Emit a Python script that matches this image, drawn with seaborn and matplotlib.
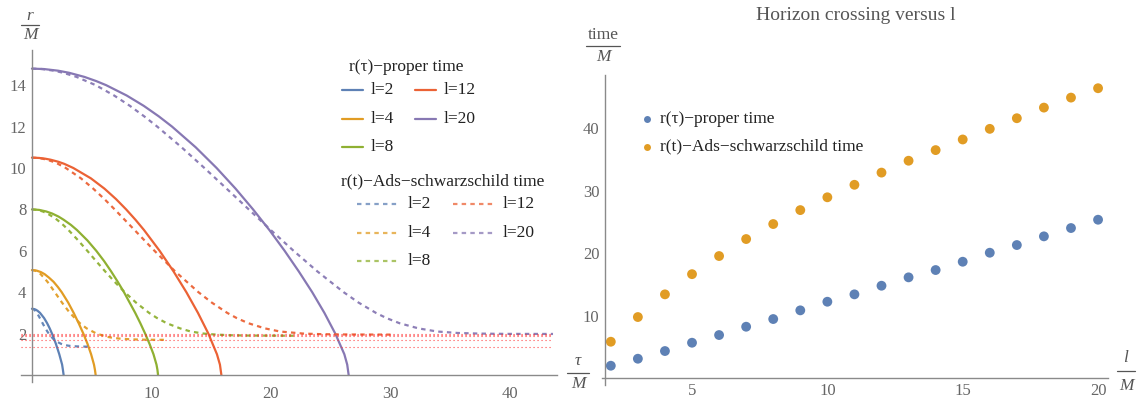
import matplotlib
matplotlib.use("Agg")
import matplotlib.pyplot as plt
from matplotlib.lines import Line2D
from matplotlib.ticker import MultipleLocator
import pandas as pd
import seaborn as sns

# ---------------- left panel: radial infall, r/M versus time ----------------
l_labels = ["l=2", "l=4", "l=8", "l=12", "l=20"]
colors = ["#5E81B5", "#E19C24", "#8FB032", "#EB6235", "#8778B3"]

# proper time tau/M and radius r/M along each trajectory
tau_l2 = [0, 0.211, 0.334, 0.472, 0.674, 1.014, 1.271, 1.486, 1.675, 1.847, 2.005, 2.287, 2.523, 2.59, 2.65]
r_tau_l2 = [3.2, 3.18, 3.15, 3.1, 3.0, 2.75, 2.5, 2.25, 2.0, 1.75, 1.5, 1.0, 0.5, 0.25, 0.0]

tau_l4 = [0, 0.4, 0.75, 1.06, 1.43, 1.81, 2.17, 2.49, 3.03, 3.49, 3.91, 4.30, 4.65, 4.95, 5.19, 5.27, 5.33]
r_tau_l4 = [5.07, 5.04, 4.97, 4.87, 4.7, 4.5, 4.25, 4.0, 3.5, 3.0, 2.5, 2.0, 1.5, 1.0, 0.5, 0.25, 0.0]

tau_l8 = [0, 0.6, 1.19, 1.69, 2.23, 2.65, 3.26, 3.77, 4.64, 5.38, 6.04, 6.63, 7.18, 7.70, 8.64, 9.07, 9.47, 9.84, 10.17, 10.42, 10.50, 10.55]
r_tau_l8 = [8.0, 7.975, 7.9, 7.8, 7.65, 7.5, 7.25, 7.0, 6.5, 6.0, 5.5, 5.0, 4.5, 4.0, 3.0, 2.5, 2.0, 1.5, 1.0, 0.5, 0.25, 0.0]

tau_l12 = [0, 0.6, 1.10, 1.56, 2.21, 2.70, 3.46, 4.93, 6.07, 7.03, 7.88, 8.66, 9.38, 10.68, 11.85, 12.92, 13.89, 14.76, 15.48, 15.73, 15.85]
r_tau_l12 = [10.5, 10.485, 10.45, 10.4, 10.3, 10.2, 10.0, 9.5, 9.0, 8.5, 8.0, 7.5, 7.0, 6.0, 5.0, 4.0, 3.0, 2.0, 1.0, 0.5, 0.0]

tau_l20 = [0, 1.0, 2.19, 3.1, 4.39, 5.37, 6.21, 7.93, 9.36, 10.6, 11.72, 13.7, 15.45, 17.04, 18.5, 19.87, 21.14, 22.33, 23.45, 24.47, 25.38, 26.14, 26.38, 26.5]
r_tau_l20 = [14.8, 14.78, 14.7, 14.6, 14.4, 14.2, 14.0, 13.5, 13.0, 12.5, 12.0, 11.0, 10.0, 9.0, 8.0, 7.0, 6.0, 5.0, 4.0, 3.0, 2.0, 1.0, 0.5, 0.0]

# AdS-Schwarzschild coordinate time t/M and radius r/M
t_l2 = [0, 0.123, 0.196, 0.28, 0.42, 0.66, 0.89, 1.125, 1.40, 1.77, 2.03, 2.455, 2.73, 2.99, 3.26, 3.76, 4.39, 4.7]
r_t_l2 = [3.2, 3.18, 3.15, 3.1, 3.0, 2.75, 2.5, 2.25, 2.0, 1.75, 1.625, 1.5, 1.45, 1.42, 1.40, 1.38, 1.37, 1.368]

t_l4 = [0, 0.27, 0.51, 0.73, 1.0, 1.30, 1.61, 1.91, 2.51, 3.17, 4.01, 4.58, 5.40, 6.25, 6.70, 7.45, 8.37, 9.46, 10.32, 11.3]
r_t_l4 = [5.07, 5.04, 4.97, 4.87, 4.7, 4.5, 4.25, 4.0, 3.5, 3.0, 2.5, 2.25, 2.0, 1.85, 1.8, 1.75, 1.72, 1.705, 1.70, 1.697]

t_l8 = [0, 0.45, 0.9, 1.29, 1.72, 2.1, 2.61, 3.06, 3.87, 4.63, 5.37, 6.13, 6.92, 7.76, 8.70, 9.80, 10.47, 11.28, 12.4, 13.28, 14.36, 15.39, 16.62, 18.01, 22.0]
r_t_l8 = [8.0, 7.975, 7.9, 7.8, 7.65, 7.5, 7.25, 7.0, 6.5, 6.0, 5.5, 5.0, 4.5, 4.0, 3.5, 3.0, 2.75, 2.5, 2.25, 2.1, 2.0, 1.95, 1.92, 1.905, 1.895]

t_l12 = [0, 0.48, 0.88, 1.25, 1.78, 2.18, 2.83, 4.10, 5.13, 6.06, 6.92, 8.59, 10.25, 11.99, 13.93, 15.04, 16.34, 17.13, 18.11, 19.5, 20.75, 22.7, 24.3, 26.6, 30.0]
r_t_l12 = [10.5, 10.485, 10.45, 10.4, 10.3, 10.2, 10.0, 9.5, 9.0, 8.5, 8.0, 7.0, 6.0, 5.0, 4.0, 3.5, 3.0, 2.75, 2.5, 2.25, 2.1, 2.0, 1.97, 1.955, 1.950]

t_l20 = [0, 0.84, 1.84, 2.61, 3.73, 5.34, 6.88, 8.2, 9.38, 10.48, 12.52, 14.43, 16.29, 18.14, 19.99, 21.89, 23.89, 26.08, 27.32, 28.78, 29.66, 30.76, 32.35, 33.9, 35.6, 37.35, 38.7, 40.0, 43.6]
r_t_l20 = [14.8, 14.78, 14.7, 14.6, 14.4, 14.0, 13.5, 13.0, 12.5, 12.0, 11.0, 10.0, 9.0, 8.0, 7.0, 6.0, 5.0, 4.0, 3.5, 3.0, 2.75, 2.5, 2.25, 2.1, 2.03, 2.0, 1.99, 1.985, 1.982]

# horizon radii r_h/M, drawn as dotted reference lines
horizon_r = [1.365, 1.696, 1.894, 1.949, 1.981]
horizon_span = [-0.9, 43.6]

tau_curves = [(tau_l2, r_tau_l2), (tau_l4, r_tau_l4), (tau_l8, r_tau_l8),
              (tau_l12, r_tau_l12), (tau_l20, r_tau_l20)]
t_curves = [(t_l2, r_t_l2), (t_l4, r_t_l4), (t_l8, r_t_l8),
            (t_l12, r_t_l12), (t_l20, r_t_l20)]

# ---------------- right panel: horizon crossing time versus l ----------------
l_values = list(range(2, 21))
proper_cross = [2.0, 3.12, 4.35, 5.68, 6.91, 8.24, 9.47, 10.86, 12.24, 13.42,
                14.8, 16.14, 17.31, 18.64, 20.08, 21.31, 22.7, 24.03, 25.36]
coord_cross = [5.84, 9.79, 13.42, 16.65, 19.55, 22.27, 24.67, 26.9, 28.95, 30.95,
               32.9, 34.8, 36.5, 38.2, 39.9, 41.6, 43.3, 44.9, 46.4]
series_names = ["r(τ)−proper time", "r(t)−Ads−schwarzschild time"]

# ---------------- styling ----------------
sns.set_theme(style="white")
plt.rcParams['font.family'] = ['Liberation Serif', 'DejaVu Serif']

W, H = 1141, 401
fig = plt.figure(figsize=(W / 100, H / 100), dpi=100)


def fx(px):
    return px / W


def fy(py):
    return 1 - py / H


AXIS_C = "#8a8a8a"
TICK_C = "#666666"
LABEL_C = "#555555"
LEG_C = "#222222"
LEG_FS = 12.5


def style_axis(ax, xpad):
    for s in ("top", "right"):
        ax.spines[s].set_visible(False)
    for s in ("left", "bottom"):
        ax.spines[s].set_color(AXIS_C)
        ax.spines[s].set_linewidth(1.0)
    ax.tick_params(which="major", direction="in", length=5, width=0.9,
                   color=AXIS_C, labelcolor=TICK_C, labelsize=12, pad=4)
    ax.tick_params(which="minor", direction="in", length=2.8, width=0.7,
                   color=AXIS_C)
    ax.tick_params(axis="x", which="major", pad=xpad)
    ax.set_xlabel("")
    ax.set_ylabel("")
    ax.grid(False)
    ax.set_facecolor("none")


def fraction(cx, y_num, y_line, y_den, num, den, half, num_style="italic"):
    fig.text(fx(cx), fy(y_num), num, ha="center", va="center", fontsize=12.5,
             style=num_style, color=LABEL_C)
    fig.add_artist(Line2D([fx(cx - half), fx(cx + half)], [fy(y_line), fy(y_line)],
                          transform=fig.transFigure, color=LABEL_C, lw=0.9))
    fig.text(fx(cx), fy(y_den), den, ha="center", va="center", fontsize=12.5,
             style="italic", color=LABEL_C)


# ---------- left axes ----------
ax1 = fig.add_axes([fx(21.2), fy(381.6), fx(556.6) - fx(21.2), fy(50) - fy(381.6)])
for (tt, rr), c in zip(tau_curves, colors):
    sns.lineplot(x=tt, y=rr, ax=ax1, color=c, lw=1.6, sort=False,
                 estimator=None, legend=False)
for (tt, rr), c in zip(t_curves, colors):
    sns.lineplot(x=tt, y=rr, ax=ax1, color=c, lw=1.6, sort=False,
                 estimator=None, legend=False, linestyle=(0, (2.0, 1.9)), alpha=0.95)
for rh in horizon_r:
    ax1.plot(horizon_span, [rh, rh], color="#ff2a2a", lw=0.8,
             linestyle=(0, (1, 2.6)), alpha=0.85)

ax1.set_xlim(-0.9, 43.9)
ax1.set_ylim(-0.32, 15.7)
style_axis(ax1, xpad=8)
ax1.spines["left"].set_position(("data", 0))
ax1.spines["bottom"].set_position(("data", 0))
ax1.xaxis.set_major_locator(MultipleLocator(10))
ax1.xaxis.set_minor_locator(MultipleLocator(2))
ax1.yaxis.set_major_locator(MultipleLocator(2))
ax1.yaxis.set_minor_locator(MultipleLocator(0.5))
ax1.set_xticks([10, 20, 30, 40])
ax1.set_yticks([2, 4, 6, 8, 10, 12, 14])

fraction(30, 16, 24.5, 35, "r", "M", 9)
fraction(578, 361, 373, 384, "τ", "M", 11)

# left legend, drawn entry by entry
fig.text(fx(349), fy(67), "r(τ)−proper time", ha="left", va="center",
         fontsize=LEG_FS, color=LEG_C)
solid_pos = [(342, 371, 90), (342, 371, 119), (342, 371, 147), (415, 444, 90), (415, 444, 119)]
for (x0, xt, y), c, lab in zip(solid_pos, colors, l_labels):
    fig.add_artist(Line2D([fx(x0), fx(x0 + 21)], [fy(y), fy(y)], transform=fig.transFigure,
                          color=c, lw=1.6))
    fig.text(fx(xt), fy(y), lab, ha="left", va="center", fontsize=LEG_FS, color=LEG_C)

fig.text(fx(341), fy(181), "r(t)−Ads−schwarzschild time", ha="left", va="center",
         fontsize=LEG_FS, color=LEG_C)
dash_pos = [(357, 408, 204), (357, 408, 233), (357, 408, 261), (453, 503, 204), (453, 503, 233)]
for (x0, xt, y), c, lab in zip(dash_pos, colors, l_labels):
    fig.add_artist(Line2D([fx(x0), fx(x0 + 42)], [fy(y), fy(y)], transform=fig.transFigure,
                          color=c, lw=1.6, linestyle=(0, (2.0, 1.9)), alpha=0.75))
    fig.text(fx(xt), fy(y), lab, ha="left", va="center", fontsize=LEG_FS, color=LEG_C)

# ---------- right axes ----------
ax2 = fig.add_axes([fx(601.6), fy(385.1), fx(1107.8) - fx(601.6), fy(75.1) - fy(385.1)])
df = pd.DataFrame({
    "l": l_values + l_values,
    "time": proper_cross + coord_cross,
    "kind": [series_names[0]] * len(l_values) + [series_names[1]] * len(l_values),
})
sns.scatterplot(data=df, x="l", y="time", hue="kind",
                palette={series_names[0]: colors[0], series_names[1]: colors[1]},
                s=50, linewidth=0, ax=ax2, legend=False)
ax2.set_xlim(1.66, 20.36)
ax2.set_ylim(-1.1, 48.5)
style_axis(ax2, xpad=3.5)
ax2.spines["left"].set_position(("data", 1.79))
ax2.spines["bottom"].set_position(("data", 0))
ax2.xaxis.set_major_locator(MultipleLocator(5))
ax2.xaxis.set_minor_locator(MultipleLocator(1))
ax2.yaxis.set_major_locator(MultipleLocator(10))
ax2.yaxis.set_minor_locator(MultipleLocator(2))
ax2.set_xticks([5, 10, 15, 20])
ax2.set_yticks([10, 20, 30, 40])

fig.text(fx(856), fy(15), "Horizon crossing versus l", ha="center", va="center",
         fontsize=14, color=LABEL_C)
fraction(603, 35, 46, 57, "time", "M", 17, num_style="normal")
fraction(1126, 358, 371, 386, "l", "M", 9)

for (y, name), c in zip([(119, series_names[0]), (146.7, series_names[1])], colors[:2]):
    fig.add_artist(Line2D([fx(646.7)], [fy(y)], transform=fig.transFigure, marker="o",
                          ms=5, color=c, markeredgewidth=0, linestyle="none"))
    fig.text(fx(660), fy(y), name, ha="left", va="center", fontsize=LEG_FS, color=LEG_C)

fig.savefig("out.png", dpi=100)
